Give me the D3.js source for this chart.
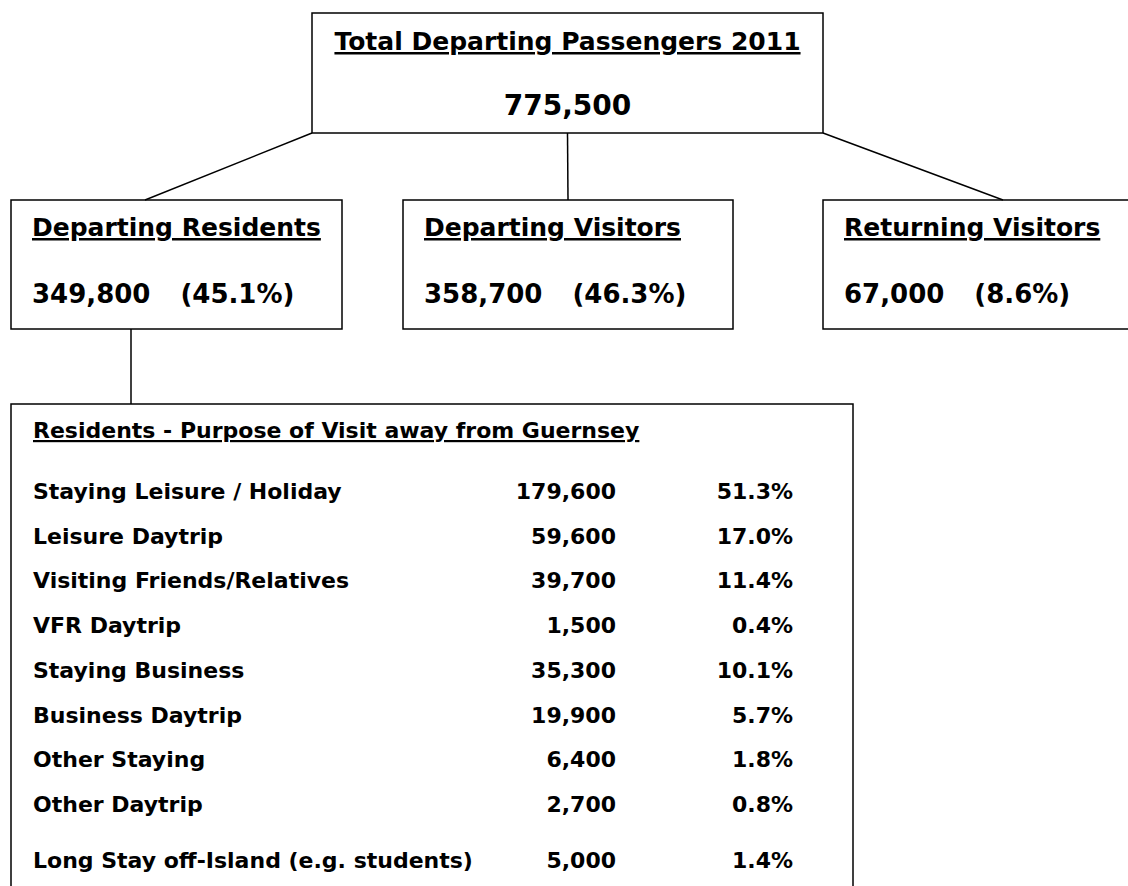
<!DOCTYPE html>
<html>
<head>
<meta charset="utf-8">
<script src="https://cdn.jsdelivr.net/npm/d3@7"></script>
<style>
  body { margin: 0; background: #fff; }
  text { font-family: "DejaVu Sans", Verdana, sans-serif; font-weight: bold; fill: #000; }
  .u { text-decoration: underline; }
  .box { fill: none; stroke: #000; stroke-width: 1.5; }
  .link { stroke: #000; stroke-width: 1.5; }
</style>
</head>
<body>
<div class="chart"></div>
<script>
// Guernsey departing passengers 2011 - tree diagram

var totalTitle = "Total Departing Passengers 2011";
var totalValue = 775500;

var groupNames = ["Departing Residents", "Departing Visitors", "Returning Visitors"];
var groupValues = [349800, 358700, 67000];
var groupPercents = [45.1, 46.3, 8.6];

var tableTitle = "Residents - Purpose of Visit away from Guernsey";
var purposes = ["Staying Leisure / Holiday", "Leisure Daytrip", "Visiting Friends/Relatives",
    "VFR Daytrip", "Staying Business", "Business Daytrip", "Other Staying", "Other Daytrip",
    "Long Stay off-Island (e.g. students)"];
var purposeValues = [179600, 59600, 39700, 1500, 35300, 19900, 6400, 2700, 5000];
var purposePercents = [51.3, 17.0, 11.4, 0.4, 10.1, 5.7, 1.8, 0.8, 1.4];

var svgWidth = 1128;
var svgHeight = 886;

var svg = d3.select(".chart")
    .append("svg")
    .attr("width", svgWidth)
    .attr("height", svgHeight);

var fmtNum = d3.format(",");
var fmtPct = d3.format(".1f");

// layout
var topBox = {x: 312, y: 13, w: 511, h: 120};
var boxX = [11, 403, 823];
var boxW = [331, 330, 360];
var boxY = 200, boxH = 129;
var linkX = [145, 568, 1003];
var table = {x: 11, y: 404, w: 842, h: 520};

// connectors
var topAnchors = [topBox.x, topBox.x + topBox.w / 2, topBox.x + topBox.w];
svg.selectAll("line.top-link")
    .data(groupNames)
    .enter()
    .append("line")
    .attr("class", "link")
    .attr("x1", function(d, i) { return topAnchors[i]; })
    .attr("y1", topBox.y + topBox.h)
    .attr("x2", function(d, i) { return linkX[i]; })
    .attr("y2", boxY);

svg.append("line")
    .attr("class", "link")
    .attr("x1", 131).attr("y1", boxY + boxH)
    .attr("x2", 131).attr("y2", table.y);

// top box
svg.append("rect").attr("class", "box")
    .attr("x", topBox.x).attr("y", topBox.y).attr("width", topBox.w).attr("height", topBox.h);

svg.append("text")
    .attr("class", "u")
    .attr("x", topBox.x + topBox.w / 2).attr("y", 50)
    .attr("text-anchor", "middle")
    .style("font-size", "25px")
    .text(totalTitle);

svg.append("text")
    .attr("x", topBox.x + topBox.w / 2).attr("y", 115)
    .attr("text-anchor", "middle")
    .style("font-size", "28px")
    .text(fmtNum(totalValue));

// group boxes
var groups = svg.selectAll("g.group")
    .data(groupNames)
    .enter()
    .append("g")
    .attr("class", "group")
    .attr("transform", function(d, i) { return "translate(" + boxX[i] + "," + boxY + ")"; });

groups.append("rect")
    .attr("class", "box")
    .attr("width", function(d, i) { return boxW[i]; })
    .attr("height", boxH);

groups.append("text")
    .attr("class", "u")
    .attr("x", 21).attr("y", 36)
    .style("font-size", "25px")
    .text(function(d) { return d; });

var valText = groups.append("text")
    .attr("x", 21).attr("y", 103)
    .style("font-size", "26px");

valText.append("tspan")
    .text(function(d, i) { return fmtNum(groupValues[i]); });

valText.append("tspan")
    .attr("dx", 30)
    .text(function(d, i) { return "(" + fmtPct(groupPercents[i]) + "%)"; });

// residents table
svg.append("rect").attr("class", "box")
    .attr("x", table.x).attr("y", table.y).attr("width", table.w).attr("height", table.h);

svg.append("text")
    .attr("class", "u")
    .attr("x", 33).attr("y", 438)
    .style("font-size", "22px")
    .text(tableTitle);

var rowY = d3.scaleLinear().domain([0, 7]).range([499, 812]);
function yOf(i) { return rowY(i) + (i > 7 ? 11 : 0); }

var rows = svg.selectAll("g.row")
    .data(purposes)
    .enter()
    .append("g")
    .attr("class", "row")
    .attr("transform", function(d, i) { return "translate(0," + yOf(i) + ")"; });

rows.append("text")
    .attr("x", 33)
    .style("font-size", "22px")
    .text(function(d) { return d; });

rows.append("text")
    .attr("x", 616)
    .attr("text-anchor", "end")
    .style("font-size", "22px")
    .text(function(d, i) { return fmtNum(purposeValues[i]); });

rows.append("text")
    .attr("x", 793)
    .attr("text-anchor", "end")
    .style("font-size", "22px")
    .text(function(d, i) { return fmtPct(purposePercents[i]) + "%"; });
</script>
</body>
</html>
